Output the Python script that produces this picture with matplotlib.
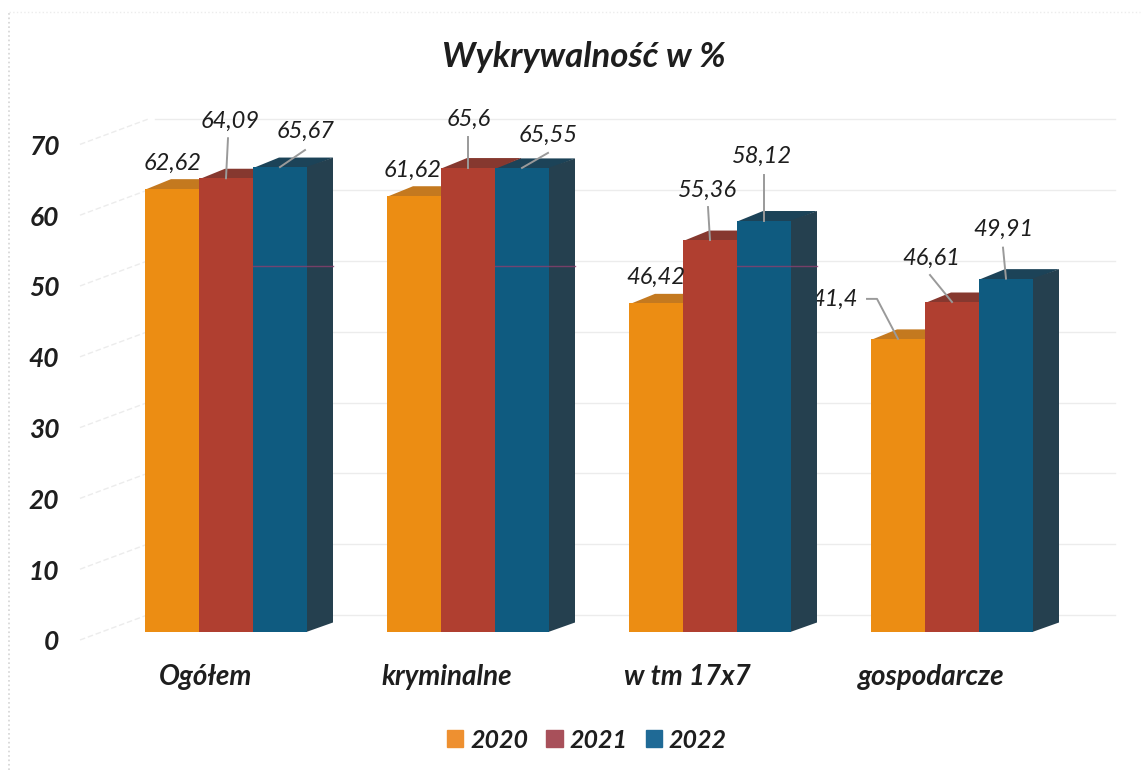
import matplotlib
matplotlib.use('Agg')
import matplotlib.pyplot as plt
from matplotlib.lines import Line2D
from matplotlib.patches import Patch, Polygon
from matplotlib.transforms import Affine2D

categories = ['Ogółem', 'kryminalne', 'w tm 17x7', 'gospodarcze']
years = ['2020', '2021', '2022']
values_2020 = [62.62, 61.62, 46.42, 41.4]
values_2021 = [64.09, 65.6, 55.36, 46.61]
values_2022 = [65.67, 65.55, 58.12, 49.91]
y_ticks = [0, 10, 20, 30, 40, 50, 60, 70]
y_tick_labels = ['0', '10', '20', '30', '40', '50', '60', '70']

W, H = 1145, 774
plt.rcParams['font.family'] = ['Lato', 'DejaVu Sans']

# px layout of the fake 3d chart
left, right, base = 80, 1115, 632
px_per_cat = 242
px_per_val = 7.08
center0 = 226
depth_x = 26 / px_per_cat
depth_y = 9.5 / px_per_val
bar_w = 54 / px_per_cat

front = ['#ec8d13', '#b03f30', '#0f5b80']
top = ['#c4791f', '#86382f', '#1c4358']
side = ['#c4791f', '#86382f', '#25404f']
swatch = ['#ee9030', '#a8505a', '#1f6a96']
ink = '#1e1e1e'

fig = plt.figure(figsize=(W / 100, H / 100), dpi=100)
ax = fig.add_axes([left / W, 1 - base / H, (right - left) / W, 70 * px_per_val / H])
ax.set_xlim((left - center0) / px_per_cat, (right - center0) / px_per_cat)
ax.set_ylim(0, 70)
for s in ax.spines.values():
    s.set_visible(False)

# back wall + side wall grid
for v in y_ticks:
    wall = v + 17 / px_per_val
    ax.plot([(155 - center0) / px_per_cat, (right - center0) / px_per_cat], [wall, wall],
            color='#ececec', lw=1, zorder=1, clip_on=False)
    ax.plot([(left - center0) / px_per_cat, (150 - center0) / px_per_cat],
            [v - 8 / px_per_val, wall + 1 / px_per_val],
            color='#ececec', lw=1, ls=(0, (4, 2)), zorder=1, clip_on=False)

series = [values_2020, values_2021, values_2022]
for i, vals in enumerate(series):
    xs = [c + (i - 1) * bar_w for c in range(len(categories))]
    z = 4 + i
    ax.bar(xs, vals, width=bar_w, color=front[i], zorder=z, clip_on=False)
    for x, v in zip(xs, vals):
        x0, x1 = x - bar_w / 2, x + bar_w / 2
        # start a bit under the front edge so no seam shows
        ax.add_patch(Polygon([(x0, v - 0.15), (x0 + depth_x, v + depth_y), (x1 + depth_x, v + depth_y), (x1, v - 0.15)],
                             closed=True, fc=top[i], ec='none', zorder=z - 0.5, clip_on=False))
        ax.add_patch(Polygon([(x1 - 0.003, 0), (x1 + depth_x, depth_y), (x1 + depth_x, v + depth_y), (x1 - 0.003, v)],
                             closed=True, fc=side[i], ec='none', zorder=z - 0.5, clip_on=False))

# the gridline that shows through the blue bars
line_y = (base - 266) / px_per_val
for c in range(3):
    x = c + bar_w
    ax.plot([x - bar_w / 2, x + bar_w / 2 + depth_x], [line_y, line_y], color='#8c3f6e', lw=1,
            alpha=0.8, zorder=8, clip_on=False)

# value labels, offsets in pixels from the top centre of the bar
label_off = [
    [(1, 25), (4, 57), (26, 36)],
    [(-1, 25), (1, 48), (26, 33)],
    [(0, 26), (-2, 50), (-2, 64)],
    [(-63, 40), (-21, 44), (-3, 49)],
]
leaders = [
    [None, [(2, 40), (0, 0)], [(25, 17), (0, 0)]],
    [None, [(0, 31), (0, 0)], [(26, 15), (0, 0)]],
    [None, [(-2, 33), (0, 0)], [(0, 46), (0, 0)]],
    [[(-31, 40), (-21, 40), (0, 0)], [(-22, 27), (0, 0)], [(-3, 31), (0, 0)]],
]
for c in range(len(categories)):
    for i, vals in enumerate(series):
        x = c + (i - 1) * bar_w
        v = vals[c]
        txt = f'{v:g}'.replace('.', ',')
        # 41,4 runs behind the dark side of the neighbouring bar
        tz = 2 if txt == '41,4' else 12
        ax.annotate(txt, xy=(x, v), xytext=label_off[c][i], textcoords='offset pixels', ha='center',
                    va='center', fontsize=17, style='italic', color=ink, zorder=tz,
                    annotation_clip=False)
        if leaders[c][i]:
            pts = leaders[c][i]
            px, py = ax.transData.transform((x, v))
            line = Line2D([p[0] for p in pts], [p[1] for p in pts], color='#9a9a9a', lw=1.4,
                          zorder=11, clip_on=False, transform=Affine2D().translate(px, py))
            ax.add_line(line)

# axis labels
ax.set_yticks(y_ticks)
ax.set_yticklabels(y_tick_labels, fontsize=19, fontweight='bold', style='italic', color=ink)
ax.tick_params(axis='y', length=0, pad=15)
ax.set_xticks(range(len(categories)))
ax.set_xticklabels(categories, fontsize=20, fontweight='bold', style='italic', color=ink)
ax.tick_params(axis='x', length=0, pad=23)
for lbl in ax.get_yticklabels():
    lbl.set_transform(lbl.get_transform() + Affine2D().translate(0, -8.5))
for lbl, dx in zip(ax.get_xticklabels(), [-20, -21, -23, -21]):
    lbl.set_transform(lbl.get_transform() + Affine2D().translate(dx, 0))

fig.text(584 / W, 1 - 57 / H, 'Wykrywalność w %', ha='center', va='center', fontsize=25,
         fontweight='bold', style='italic', color=ink)

legend_handles = [Patch(color=col) for col in swatch]
fig.legend(handles=legend_handles, labels=years, loc='center', bbox_to_anchor=(587 / W, 1 - 740 / H), ncol=3,
           frameon=False, prop={'size': 18, 'weight': 'bold', 'style': 'italic'}, handlelength=0.65,
           handleheight=0.65, handletextpad=0.28, columnspacing=0.72, labelcolor=ink)

# scan edges
fig.add_artist(Line2D([9 / W, 9 / W], [0.005, 1 - 12 / H], color='#d4d4d4', lw=1.2, ls=':'))
fig.add_artist(Line2D([9 / W, 1 - 5 / W], [1 - 12 / H, 1 - 12 / H], color='#ececec', lw=1, ls=':'))

fig.savefig('out.png', dpi=100)
